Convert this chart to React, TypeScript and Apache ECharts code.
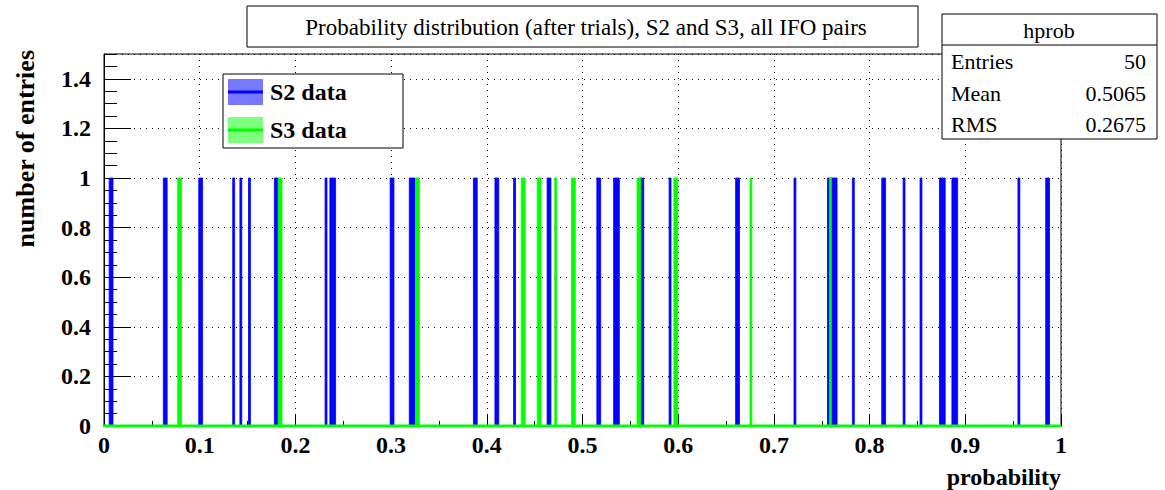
import React, { useEffect, useRef } from "react";
import * as echarts from "echarts";

// ---- data ----
const chartTitle = "Probability distribution (after trials), S2 and S3, all IFO pairs";
const histName = "hprob";
const statsLabels = ["Entries", "Mean", "RMS"];
const statsValues = ["50", "0.5065", "0.2675"];
const seriesNames = ["S2 data", "S3 data"];
const xTitle = "probability";
const yTitle = "number of entries";

// bin width of the histogram (probability units)
const BIN = 0.002;

// entries of S2 (each one fills one bin with count 1)
const s2Entries = [
  0.0064, 0.0084, 0.063, 0.065, 0.1, 0.102, 0.1355, 0.143, 0.152, 0.179, 0.181,
  0.232, 0.237, 0.239, 0.241, 0.3, 0.302, 0.32, 0.322, 0.324, 0.387, 0.389,
  0.4095, 0.4115, 0.429, 0.464, 0.466, 0.516, 0.518, 0.5335, 0.5355, 0.5375,
  0.561, 0.563, 0.5915, 0.661, 0.663, 0.722, 0.757, 0.759, 0.761, 0.763, 0.765,
  0.783, 0.8137, 0.8157, 0.836, 0.8537, 0.874, 0.876, 0.878, 0.887, 0.889,
  0.891, 0.956, 0.985, 0.987,
];
const s2Counts = s2Entries.map(() => 1);

// entries of S3
const s3Entries = [
  0.078, 0.08, 0.183, 0.185, 0.3266, 0.3286, 0.437, 0.439, 0.4537, 0.4557,
  0.472, 0.4895, 0.4915, 0.558, 0.56, 0.5965, 0.5985, 0.676, 0.759,
];
const s3Counts = s3Entries.map(() => 1);

const xRange = [0, 1];
const yRange = [0, 1.5];

const BLUE = "#0000ff";
const GREEN = "#00ff00";
const SERIF = "'Liberation Serif', 'DejaVu Serif', serif";

function histItem(color: string) {
  return (params: any, api: any) => {
    const x = api.value(0);
    const c = api.value(1);
    const p0 = api.coord([x - BIN / 2, 0]);
    const p1 = api.coord([x + BIN / 2, c]);
    return {
      type: "rect",
      shape: { x: p0[0], y: p1[1], width: p1[0] - p0[0], height: p0[1] - p1[1] },
      style: { fill: color, stroke: color, lineWidth: 0.8 },
    };
  };
}

export default function App() {
  const ref = useRef<HTMLDivElement>(null);
  useEffect(() => {
    if (!ref.current) return;
    const chart = echarts.init(ref.current, null, { renderer: "svg" });
    const dotted = { color: "#000", width: 1, type: [1, 5] as any };
    const statsY = [61, 93, 124];
    const legendY = [92, 130];
    const legendFill = ["#7878ff", "#7cff7c"];
    const legendLine = [BLUE, GREEN];

    const graphic: any[] = [
      // title box
      {
        type: "rect", z: 100,
        shape: { x: 247, y: 6, width: 671, height: 41 },
        style: { fill: "#fff", stroke: "#000", lineWidth: 1 },
      },
      {
        type: "text", z: 101, x: 586, y: 27,
        style: { text: chartTitle, font: `23px ${SERIF}`, fill: "#000", textAlign: "center", textVerticalAlign: "middle" },
      },
      // stats box
      {
        type: "rect", z: 100,
        shape: { x: 942, y: 14, width: 215, height: 125 },
        style: { fill: "#fff", stroke: "#000", lineWidth: 1 },
      },
      {
        type: "line", z: 101,
        shape: { x1: 942, y1: 45, x2: 1157, y2: 45 },
        style: { stroke: "#000", lineWidth: 1 },
      },
      {
        type: "text", z: 101, x: 1049, y: 30,
        style: { text: histName, font: `22px ${SERIF}`, fill: "#000", textAlign: "center", textVerticalAlign: "middle" },
      },
      ...statsLabels.map((l, i) => ({
        type: "text", z: 101, x: 951, y: statsY[i],
        style: { text: l, font: `22px ${SERIF}`, fill: "#000", textAlign: "left", textVerticalAlign: "middle" },
      })),
      ...statsValues.map((v, i) => ({
        type: "text", z: 101, x: 1146, y: statsY[i],
        style: { text: v, font: `22px ${SERIF}`, fill: "#000", textAlign: "right", textVerticalAlign: "middle" },
      })),
      // legend box
      {
        type: "rect", z: 100,
        shape: { x: 223, y: 74, width: 180, height: 74 },
        style: { fill: "#fff", stroke: "#000", lineWidth: 1 },
      },
      ...seriesNames.flatMap((n, i) => [
        {
          type: "rect", z: 101,
          shape: { x: 228, y: legendY[i] - 13, width: 35, height: 26 },
          style: { fill: legendFill[i] },
        },
        {
          type: "line", z: 102,
          shape: { x1: 228, y1: legendY[i], x2: 263, y2: legendY[i] },
          style: { stroke: legendLine[i], lineWidth: 3 },
        },
        {
          type: "text", z: 102, x: 270, y: legendY[i],
          style: { text: n, font: `bold 24px ${SERIF}`, fill: "#000", textAlign: "left", textVerticalAlign: "middle" },
        },
      ]),
      // axis titles
      {
        type: "text", z: 101, x: 25, y: 50, rotation: Math.PI / 2,
        style: { text: yTitle, font: `bold 26px ${SERIF}`, fill: "#000", textAlign: "right", textVerticalAlign: "middle" },
      },
      {
        type: "text", z: 101, x: 1061, y: 477,
        style: { text: xTitle, font: `bold 24px ${SERIF}`, fill: "#000", textAlign: "right", textVerticalAlign: "middle" },
      },
    ];

    chart.setOption({
      animation: false,
      backgroundColor: "#fff",
      grid: {
        left: 104, right: 104, top: 54, bottom: 64,
        show: true, borderColor: "#000", borderWidth: 1, backgroundColor: "transparent",
      },
      xAxis: {
        type: "value", min: xRange[0], max: xRange[1], interval: 0.1,
        axisLine: { show: true, lineStyle: { color: "#000", width: 1 } },
        axisTick: { show: true, inside: true, length: 11, lineStyle: { color: "#000" } },
        minorTick: { show: true, splitNumber: 2, length: 5, lineStyle: { color: "#000" } },
        splitLine: { show: true, lineStyle: dotted },
        axisLabel: {
          show: true, margin: 7, color: "#000",
          fontFamily: SERIF, fontSize: 24, fontWeight: "bold",
          formatter: (v: number) => String(+v.toFixed(1)),
        },
      },
      yAxis: [
        {
          type: "value", min: yRange[0], max: yRange[1], interval: 0.2,
          axisLine: { show: true, lineStyle: { color: "#000", width: 1 } },
          axisTick: { show: true, inside: true, length: 27, lineStyle: { color: "#000" } },
          splitLine: { show: true, lineStyle: dotted },
          axisLabel: {
            show: true, margin: 13, color: "#000", showMaxLabel: false,
            fontFamily: SERIF, fontSize: 24, fontWeight: "bold",
            formatter: (v: number) => String(+v.toFixed(1)),
          },
        },
        {
          type: "value", min: yRange[0], max: yRange[1], interval: 0.05, position: "left",
          axisLine: { show: false },
          axisTick: { show: true, inside: true, length: 13, lineStyle: { color: "#000" } },
          splitLine: { show: false },
          axisLabel: { show: false },
        },
      ],
      series: [
        {
          name: seriesNames[0], type: "custom", xAxisIndex: 0, yAxisIndex: 0,
          renderItem: histItem(BLUE), encode: { x: 0, y: 1 },
          data: s2Entries.map((v, i) => [v, s2Counts[i]]),
          z: 2,
        },
        {
          name: seriesNames[1], type: "custom", xAxisIndex: 0, yAxisIndex: 0,
          renderItem: histItem(GREEN), encode: { x: 0, y: 1 },
          data: s3Entries.map((v, i) => [v, s3Counts[i]]),
          z: 3,
        },
        {
          name: seriesNames[1] + " baseline", type: "line", xAxisIndex: 0, yAxisIndex: 0,
          data: [[xRange[0], 0], [xRange[1], 0]],
          symbol: "none", lineStyle: { color: GREEN, width: 3 }, z: 4,
          silent: true,
        },
      ],
      graphic,
    });
    return () => chart.dispose();
  }, []);
  return (
    <div
      ref={ref}
      style={{ position: "fixed", left: 0, top: 0, width: 1165, height: 490, background: "#fff" }}
    />
  );
}
